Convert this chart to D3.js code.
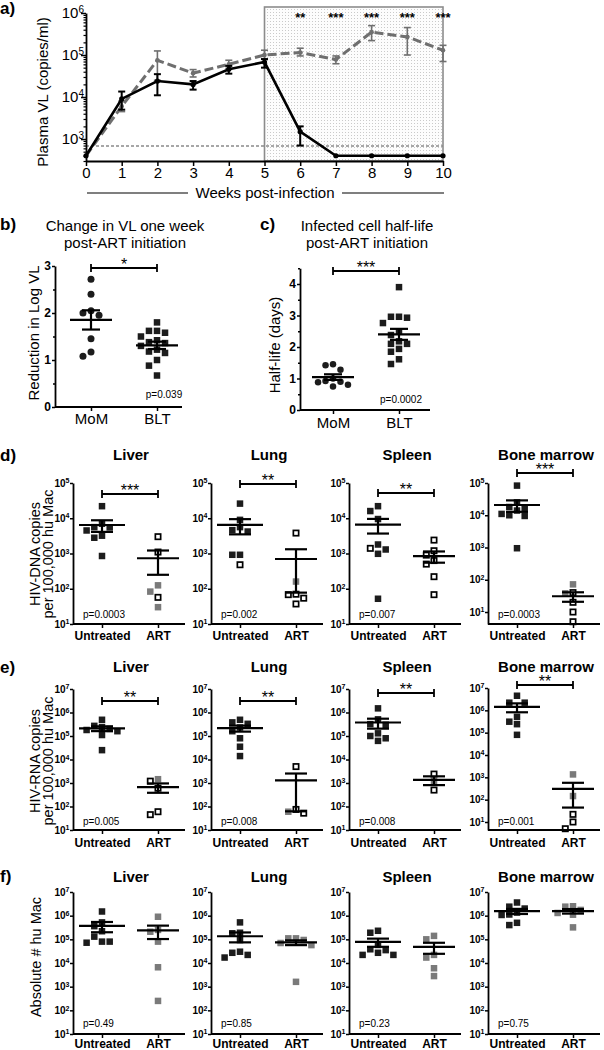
<!DOCTYPE html>
<html><head><meta charset="utf-8">
<script src="https://cdn.jsdelivr.net/npm/d3@7"></script>
<style>body{margin:0;background:#fff}svg{display:block}</style>
</head><body>
<svg id="c" width="604" height="1050"></svg>
<script>
// ---------- DATA ----------
// Panel a: plasma viral load
const weeks = [0,1,2,3,4,5,6,7,8,9,10];
const solidVL = [400, 9000, 24000, 20000, 46000, 68000, 1500, 400, 400, 400, 400];
const solidLo = [null, 5000, 11000, 15000, 36000, 50000, 700, null, null, null, null];
const solidHi = [null, 13500, 35000, 24000, 55000, 80000, 2000, null, null, null, null];
const dashVL = [400, 6000, 75000, 37000, 60000, 100000, 115000, 78000, 350000, 270000, 130000];
const dashLo = [null, 4500, 25000, 30000, 48000, 80000, 95000, 62000, 220000, 100000, 70000];
const dashHi = [null, 8000, 125000, 45000, 75000, 130000, 145000, 95000, 500000, 450000, 170000];
const weekStars = ["","","","","","","**","***","***","***","***"];
const detectLimit = 680;
const aYTicks = [1e3, 1e4, 1e5, 1e6];

// Panel b: reduction in log VL
const bGroups = ["MoM", "BLT"];
const bMoM = [2.72, 2.40, 2.05, 2.0, 1.95, 1.45, 1.17, 1.08];
const bBLT = [1.8, 1.62, 1.62, 1.58, 1.5, 1.42, 1.38, 1.36, 1.3, 1.22, 1.18, 1.15, 1.0, 0.88, 0.67];
const bTicks = [0, 1, 2, 3];
// Panel c: half-life
const cMoM = [1.45, 1.42, 1.28, 1.0, 0.92, 0.9, 0.88, 0.8, 0.75];
const cBLT = [3.9, 2.96, 2.96, 2.93, 2.76, 2.49, 2.38, 2.18, 2.1, 2.1, 1.94, 1.85, 1.61, 1.46];
const cTicks = [0, 1, 2, 3, 4];

// Panels d-f
const organs = ["Liver", "Lung", "Spleen", "Bone marrow"];
const treatGroups = ["Untreated", "ART"];
// d: HIV-DNA
const dUntFilled = [[22000,7000,5600,5500,4500,3200,2800,850],[26000,9000,5600,4600,4200,920,920],[22000,16000,9500,1800,1300,980,52],[83000,25000,18000,16000,14000,11000,10000,9500,950]];
const dUntOpen = [[],[480],[1400],[]];
const dArtOpen = [[3000,1100,57],[3800,70,68,54,37],[2400,1200,900,630,500,220,68],[40,20,10,5]];
const dArtGrey = [[125,83,30],[160],[],[72,38]];
const dStars = ["***","**","**","***"];
const dP = ["p=0.0003","p=0.002","p=0.007","p=0.0003"];
// e: HIV-RNA
const eUntFilled = [[490000,270000,240000,200000,180000,160000,110000,25000],[490000,380000,330000,230000,160000,80000,35000,14000],[1500000,510000,320000,300000,130000,100000,80000,62000],[4500000,2200000,2200000,510000,310000,240000,80000]];
const eUntOpen = [[],[],[],[]];
const eArtOpen = [[1200,600,60,45],[5000,75,52],[2400,500],[22,10,5]];
const eArtGrey = [[1450],[60],[1200],[1350,145]];
const eStars = ["**","**","**","**"];
const eP = ["p=0.005","p=0.008","p=0.008","p=0.001"];
// f: absolute number of hu Mac
const fUntFilled = [[1500000,520000,360000,220000,130000,80000,80000,72000],[520000,190000,180000,93000,30000,27000,22000,17000],[230000,190000,58000,38000,35000,27000,22000,22000],[3600000,2400000,2000000,1350000,1120000,1070000,500000,400000]];
const fUntOpen = [[],[],[],[]];
const fArtOpen = [[],[],[],[]];
const fArtGrey = [[900000,250000,210000,80000,6600,250],[110000,110000,94000,70000,57000,1600],[140000,100000,22000,17000,6000,2800],[2500000,2400000,1750000,1300000,1100000,320000]];
const fStars = [null,null,null,null];
const fP = ["p=0.49","p=0.85","p=0.23","p=0.75"];

// ---------- DRAW ----------
const FONT = "'Liberation Sans', Arial, Helvetica, sans-serif";
const svg = d3.select("#c").attr("font-family", FONT);
const BLACK = "#1c1c1c", GREY = "#7a7a7a";

const defs = svg.append("defs");
const pat = defs.append("pattern").attr("id","stip").attr("width",3).attr("height",3).attr("patternUnits","userSpaceOnUse");
pat.append("rect").attr("width",3).attr("height",3).attr("fill","#fdfdfd");
pat.append("rect").attr("width",1).attr("height",1).attr("fill","#cacaca");

function styleAxis(g, fs, weight){
  g.attr("font-family", FONT).attr("font-size", fs).attr("font-weight", weight);
  g.select(".domain").attr("stroke-width", 1.8).attr("stroke", "#000");
  g.selectAll(".tick line").attr("stroke-width", 1.5).attr("stroke", "#000");
  g.selectAll(".tick text").attr("fill", "#000");
}
function supLabels(g, supSize, dy){
  g.selectAll(".tick text").each(function(d){
    const t = d3.select(this);
    t.text("10");
    t.append("tspan").attr("dy", dy).attr("font-size", supSize).text(Math.round(Math.log10(d)));
  });
}
function panelLetter(x, y, s){
  svg.append("text").attr("x", x).attr("y", y).attr("font-size", 17).attr("font-weight", "bold").text(s);
}
function rotLabel(x, y, s, fs){
  svg.append("text").attr("transform", `translate(${x},${y}) rotate(-90)`).attr("text-anchor","middle")
    .attr("dy","0.35em").attr("font-size", fs).text(s);
}
function sigBar(g, x1, x2, y, stars, fs){
  g.append("line").attr("x1",x1).attr("x2",x2).attr("y1",y).attr("y2",y).attr("stroke","#000").attr("stroke-width",1.8);
  [x1,x2].forEach(x=>g.append("line").attr("x1",x).attr("x2",x).attr("y1",y-4).attr("y2",y+4).attr("stroke","#000").attr("stroke-width",1.8));
  g.append("text").attr("x",(x1+x2)/2).attr("y",y+2).attr("text-anchor","middle").attr("font-size",fs).text(stars);
}
function swarm(items, yf, cx, d){
  const pts = items.map(it => Object.assign({}, it, {y: yf(it.v)})).sort((a,b)=>a.y-b.y);
  const placed = [];
  const step = d*0.55;
  pts.forEach(p=>{
    let off = 0;
    for (let k=0;k<60;k++){
      off = k===0 ? 0 : (k%2 ? -1 : 1)*Math.ceil(k/2)*step;
      const x = cx+off;
      if (placed.every(q => Math.max(Math.abs(q.x-x), Math.abs(q.y-p.y)) >= d)) break;
    }
    p.x = cx+off; placed.push(p);
  });
  return pts;
}
function drawPoints(g, pts, shape, size){
  pts.forEach(p=>{
    if (shape==="circle"){
      g.append("circle").attr("cx",p.x).attr("cy",p.y).attr("r",size/2).attr("fill",BLACK);
    } else {
      const open = p.kind==="open";
      const s = open ? size-1.2 : size;
      g.append("rect").attr("x",p.x-s/2).attr("y",p.y-s/2).attr("width",s).attr("height",s)
        .attr("fill", open ? "#fff" : (p.kind==="grey" ? GREY : BLACK))
        .attr("stroke", open ? "#000" : "none").attr("stroke-width", open ? 1.7 : 0);
    }
  });
}
function meanSem(g, vals, cx, yf, half, cap, floor){
  const m = d3.mean(vals), s = d3.deviation(vals)/Math.sqrt(vals.length);
  const lo = Math.max(m-s, floor), hi = m+s;
  const st = {stroke:"#000", "stroke-width":2.2};
  const L = (x1,y1,x2,y2)=>{ const l=g.append("line").attr("x1",x1).attr("y1",y1).attr("x2",x2).attr("y2",y2); for (const k in st) l.attr(k, st[k]); };
  L(cx-half, yf(m), cx+half, yf(m));
  L(cx, yf(lo), cx, yf(hi));
  L(cx-cap, yf(hi), cx+cap, yf(hi));
  if (m-s > floor) L(cx-cap, yf(lo), cx+cap, yf(lo));
}

// ---------- Panel a ----------
(function(){
  const ax = d3.scaleLinear().domain([0,10]).range([86,443]);
  const ay = d3.scaleLog().domain([300,1e6]).range([161,13]);
  const g = svg.append("g");
  panelLetter(0, 14, "a)");
  g.append("rect").attr("x",ax(5)).attr("y",7).attr("width",ax(10)-ax(5)).attr("height",ay(300)-7)
    .attr("fill","url(#stip)").attr("stroke","#8c8c8c").attr("stroke-width",1.6);
  g.append("line").attr("x1",ax(0)).attr("x2",ax(10)).attr("y1",ay(detectLimit)).attr("y2",ay(detectLimit))
    .attr("stroke","#8a8a8a").attr("stroke-width",1.6).attr("stroke-dasharray","3,2");
  const line = d3.line().x((d,i)=>ax(weeks[i])).y(d=>ay(d));
  // dashed grey series
  g.append("path").attr("d", line(dashVL)).attr("fill","none").attr("stroke","#6f6f6f").attr("stroke-width",3).attr("stroke-dasharray","9,4");
  dashVL.forEach((v,i)=>{
    if (dashLo[i]!=null){
      const x = ax(weeks[i]);
      g.append("line").attr("x1",x).attr("x2",x).attr("y1",ay(dashLo[i])).attr("y2",ay(dashHi[i])).attr("stroke","#6f6f6f").attr("stroke-width",1.6);
      [dashLo[i],dashHi[i]].forEach(e=>g.append("line").attr("x1",x-3.5).attr("x2",x+3.5).attr("y1",ay(e)).attr("y2",ay(e)).attr("stroke","#6f6f6f").attr("stroke-width",1.6));
    }
    g.append("circle").attr("cx",ax(weeks[i])).attr("cy",ay(v)).attr("r",2.3).attr("fill","#6f6f6f");
  });
  // solid black series
  g.append("path").attr("d", line(solidVL)).attr("fill","none").attr("stroke","#000").attr("stroke-width",2.6);
  solidVL.forEach((v,i)=>{
    if (solidLo[i]!=null){
      const x = ax(weeks[i]);
      g.append("line").attr("x1",x).attr("x2",x).attr("y1",ay(solidLo[i])).attr("y2",ay(solidHi[i])).attr("stroke","#000").attr("stroke-width",2);
      [solidLo[i],solidHi[i]].forEach(e=>g.append("line").attr("x1",x-3.5).attr("x2",x+3.5).attr("y1",ay(e)).attr("y2",ay(e)).attr("stroke","#000").attr("stroke-width",2));
    }
    g.append("circle").attr("cx",ax(weeks[i])).attr("cy",ay(v)).attr("r",2.6).attr("fill","#000");
  });
  weekStars.forEach((s,i)=>{ if (s) g.append("text").attr("x",ax(weeks[i])).attr("y",22).attr("text-anchor","middle").attr("font-size",13).attr("font-weight","bold").text(s); });
  // minor log ticks
  const minor = [];
  ay.ticks(40).forEach(t=>{ const m = t/Math.pow(10, Math.floor(Math.log10(t)+1e-9)); if (Math.abs(m-1)>1e-6 && t>=300 && t<=1e6) minor.push(t); });
  const gmin = g.append("g").attr("transform","translate(86,0)").call(d3.axisLeft(ay).tickValues(minor).tickSize(2.5).tickFormat(""));
  gmin.select(".domain").remove(); gmin.selectAll("line").attr("stroke-width",1.2);
  const gy = g.append("g").attr("transform","translate(86,0)").call(d3.axisLeft(ay).tickValues(aYTicks).tickSize(5).tickSizeOuter(0).tickPadding(-3));
  styleAxis(gy, 15, "normal"); supLabels(gy, 10, "-0.55em");
  const gx = g.append("g").attr("transform","translate(0,161)").call(d3.axisBottom(ax).tickValues(weeks).tickSize(5).tickSizeOuter(0).tickPadding(1.5).tickFormat(d3.format("d")));
  styleAxis(gx, 15, "normal");
  rotLabel(43, 92, "Plasma VL (copies/ml)", 15);
  g.append("line").attr("x1",87).attr("x2",188).attr("y1",193).attr("y2",193).attr("stroke","#000").attr("stroke-width",1.2);
  g.append("line").attr("x1",342).attr("x2",444).attr("y1",193).attr("y2",193).attr("stroke","#000").attr("stroke-width",1.2);
  g.append("text").attr("x",265).attr("y",198).attr("text-anchor","middle").attr("font-size",15).text("Weeks post-infection");
})();

// ---------- Panels b, c ----------
function dotPanel(opt){
  const g = svg.append("g");
  const y = d3.scaleLinear().domain([0, opt.max]).range([opt.y0, opt.yTop]);
  const x = d3.scalePoint().domain(bGroups).range(opt.cats);
  panelLetter(opt.letterX, 230, opt.letter);
  opt.title.forEach((t,i)=>g.append("text").attr("x",opt.titleX).attr("y",231+i*17).attr("text-anchor","middle").attr("font-size",15).text(t));
  const p1 = swarm(opt.a.map(v=>({v})), y, x(bGroups[0]), opt.dotSize+0.3);
  const p2 = swarm(opt.b.map(v=>({v})), y, x(bGroups[1]), opt.sqSize+0.8);
  drawPoints(g, p1, "circle", opt.dotSize);
  drawPoints(g, p2, "square", opt.sqSize);
  meanSem(g, opt.a, x(bGroups[0]), y, 21, 9, 0);
  meanSem(g, opt.b, x(bGroups[1]), y, 21, 9, 0);
  const gy = g.append("g").attr("transform",`translate(${opt.axX},0)`).call(d3.axisLeft(y).tickValues(opt.ticks).tickSize(3).tickSizeOuter(0).tickPadding(1).tickFormat(d3.format("d")));
  styleAxis(gy, 12, "bold");
  const gm = g.append("g").attr("transform",`translate(${opt.axX},0)`).call(d3.axisLeft(y).tickValues(opt.ticks.map(t=>t+0.5).filter(t=>t<=opt.max)).tickSize(2).tickFormat(""));
  gm.select(".domain").remove(); gm.selectAll("line").attr("stroke-width",1.3);
  g.append("line").attr("x1",opt.axX).attr("x2",opt.axEnd).attr("y1",opt.y0).attr("y2",opt.y0).attr("stroke","#000").attr("stroke-width",1.8);
  const gx = g.append("g").attr("transform",`translate(0,${opt.y0})`).call(d3.axisBottom(x).tickSize(4).tickPadding(opt.catPad));
  gx.select(".domain").remove(); styleAxis(gx, 15, "normal");
  sigBar(g, x(bGroups[0]), x(bGroups[1]), opt.sigY, opt.stars, 16);
  g.append("text").attr("x",opt.pX).attr("y",opt.pY).attr("text-anchor","middle").attr("font-size",10).text(opt.p);
  rotLabel(opt.labX, opt.labY, opt.label, 15);
}
dotPanel({letter:"b)", letterX:0, title:["Change in VL one week","post-ART initiation"], titleX:125,
  a:bMoM, b:bBLT, max:3, ticks:bTicks, y0:407, yTop:266, cats:[91,157], axX:55, axEnd:182, catPad:2.3,
  dotSize:7, sqSize:6.5, sigY:268, stars:"*", p:"p=0.039", pX:164, pY:398, label:"Reduction in Log VL", labX:34, labY:333});
dotPanel({letter:"c)", letterX:260, title:["Infected cell half-life","post-ART initiation"], titleX:367,
  a:cMoM, b:cBLT, max:4.5, ticks:cTicks, y0:410, yTop:268.25, cats:[333,399], axX:300, axEnd:430, catPad:3.3,
  dotSize:6.5, sqSize:6.5, sigY:271, stars:"***", p:"p=0.0002", pX:401, pY:403, label:"Half-life  (days)", labX:275, labY:345});

// ---------- Panels d, e, f ----------
const panelX0 = [73, 211, 349, 488];
function rowPanels(opt){
  panelLetter(0, opt.letterY, opt.letter);
  organs.forEach((org, i)=>{
    const g = svg.append("g");
    const x0 = panelX0[i];
    const x = d3.scalePoint().domain(treatGroups).range([x0+29, x0+85]);
    const dom = opt.domains[i], rng = opt.ranges[i];
    const y = d3.scaleLog().domain(dom).range(rng);
    g.append("text").attr("x",x0+58).attr("y",opt.titleY).attr("text-anchor","middle").attr("font-size",15).attr("font-weight","bold").text(org);
    const unt = opt.untF[i].map(v=>({v,kind:"fill"})).concat(opt.untO[i].map(v=>({v,kind:"open"})));
    const art = opt.artO[i].map(v=>({v,kind:"open"})).concat(opt.artG[i].map(v=>({v,kind:"grey"})));
    drawPoints(g, swarm(unt, y, x("Untreated"), 7), "square", 6.5);
    drawPoints(g, swarm(art, y, x("ART"), 7), "square", 6.5);
    meanSem(g, unt.map(d=>d.v), x("Untreated"), y, 23, 11, dom[0]);
    meanSem(g, art.map(d=>d.v), x("ART"), y, 21, 11, dom[0]);
    const gy = g.append("g").attr("transform",`translate(${x0},0)`).call(d3.axisLeft(y).tickValues(opt.ticks).tickSize(3).tickSizeOuter(0).tickPadding(0.5));
    styleAxis(gy, 10, "bold"); supLabels(gy, 7, "-0.5em");
    g.append("line").attr("x1",x0).attr("x2",x0+112).attr("y1",rng[0]).attr("y2",rng[0]).attr("stroke","#000").attr("stroke-width",1.8);
    const gx = g.append("g").attr("transform",`translate(0,${rng[0]})`).call(d3.axisBottom(x).tickSize(4).tickPadding(opt.catPad));
    gx.select(".domain").remove(); styleAxis(gx, 12, "bold");
    if (opt.stars[i]) sigBar(g, x("Untreated"), x("ART"), opt.sigY[i], opt.stars[i], 16);
    g.append("text").attr("x",x0+10).attr("y",opt.pY).attr("font-size",10).text(opt.p[i]);
  });
  opt.label.forEach((t,k)=>rotLabel(opt.label.length===2 ? 35+k*13 : 36, opt.labY, t, 14.5));
}
rowPanels({letter:"d)", letterY:461, titleY:460,
  domains:[[10,1e5],[10,1e5],[10,1e5],[4.25,1e5]], ranges:[[624,483],[624,483],[624,483],[624,483]],
  ticks:[10,1e2,1e3,1e4,1e5], untF:dUntFilled, untO:dUntOpen, artO:dArtOpen, artG:dArtGrey,
  stars:dStars, sigY:[494,484,493,473], p:dP, pY:618, catPad:3.5,
  label:["HIV-DNA copies","per 100,000 hu Mac"], labY:554});
rowPanels({letter:"e)", letterY:673, titleY:672,
  domains:[[10,1e7],[10,1e7],[10,1e7],[4.38,1e7]], ranges:[[830,689],[830,689],[830,689],[830,688]],
  ticks:[10,1e2,1e3,1e4,1e5,1e6,1e7], untF:eUntFilled, untO:eUntOpen, artO:eArtOpen, artG:eArtGrey,
  stars:eStars, sigY:[701,701,693,685], p:eP, pY:825, catPad:4.5,
  label:["HIV-RNA copies","per 100,000 hu Mac"], labY:761});
rowPanels({letter:"f)", letterY:882, titleY:882,
  domains:[[10,1e7],[10,1e7],[10,1e7],[10,1e7]], ranges:[[1034,892],[1034,892],[1034,892],[1034,892]],
  ticks:[10,1e2,1e3,1e4,1e5,1e6,1e7], untF:fUntFilled, untO:fUntOpen, artO:fArtOpen, artG:fArtGrey,
  stars:fStars, sigY:[0,0,0,0], p:fP, pY:1027, catPad:1.2,
  label:["Absolute # hu Mac"], labY:957});
</script>
</body></html>
